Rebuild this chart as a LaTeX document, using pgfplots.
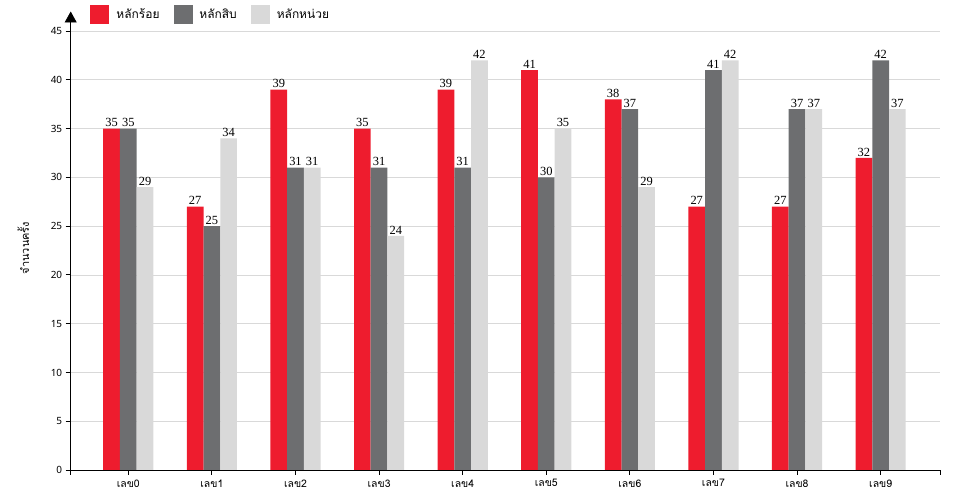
\documentclass[border=0pt]{standalone}
\usepackage{pgfplots}
\pgfplotsset{compat=1.18}
\usepackage{fontspec}
\setmainfont{Noto Sans}
\newfontfamily\thaifont[Script=Thai]{Loma}
\newfontfamily\seriffont{Liberation Serif}
\usetikzlibrary{arrows.meta}
\definecolor{cred}{HTML}{EE1C2E}
\definecolor{cdark}{HTML}{6D6E70}
\definecolor{clight}{HTML}{D9D9D9}
\definecolor{cgrid}{HTML}{D9D9D9}
\begin{document}
\begin{tikzpicture}
\useasboundingbox (0,0) rectangle (960bp,500bp);
\begin{axis}[
  at={(70.7bp,30bp)}, anchor=south west,
  scale only axis, width=869.3bp, height=458.5bp,
  xmin=-0.689, xmax=9.71, ymin=0, ymax=47,
  axis lines=left,
  x axis line style={-},
  y axis line style={-{Triangle[width=12bp,length=11bp]}},
  ytick={0,5,...,45},
  xtick={0,...,9},
  xticklabels={เลข0,เลข1,เลข2,เลข3,เลข4,เลข5,เลข6,เลข7,เลข8,เลข9},
  x tick label style={font=\thaifont\fontsize{10.5}{12}\selectfont, yshift=-1bp},
  y tick label style={font=\fontsize{10}{12}\selectfont},
  /pgf/number format/assume math mode=true,
  extra x ticks={-0.689,9.71},
  extra x tick labels={},
  extra x tick style={grid=none},
  tick align=outside,
  major tick length=5bp,
  tick style={black, line width=0.8pt},
  axis line style={black, line width=0.8pt},
  ymajorgrids,
  grid style={cgrid, line width=0.6pt},
  ylabel={จำนวนครั้ง},
  ylabel style={font=\thaifont\fontsize{11}{12}\selectfont, at={(axis description cs:-0.0545,0.484)}, anchor=center, rotate=0},
  ybar, bar width=0.2,
  nodes near coords,
  every node near coord/.append style={font=\seriffont\fontsize{12.5}{12}\selectfont, black, inner sep=1.5bp},
  legend columns=3,
  legend style={at={(axis description cs:0.0225,0.994)}, anchor=west, draw=none, fill=none,
    font=\thaifont\fontsize{12}{14}\selectfont, inner sep=0pt,
    /tikz/every odd column/.append style={column sep=5bp},
    /tikz/every even column/.append style={column sep=12bp}},
  legend image code/.code={\fill[#1] (0bp,-9.5bp) rectangle (19bp,9.5bp);},
]
\addplot[fill=cred, draw=none, bar shift=-0.2] coordinates {(0,35) (1,27) (2,39) (3,35) (4,39) (5,41) (6,38) (7,27) (8,27) (9,32)};
\addplot[fill=cdark, draw=none, bar shift=0] coordinates {(0,35) (1,25) (2,31) (3,31) (4,31) (5,30) (6,37) (7,41) (8,37) (9,42)};
\addplot[fill=clight, draw=none, bar shift=0.2] coordinates {(0,29) (1,34) (2,31) (3,24) (4,42) (5,35) (6,29) (7,42) (8,37) (9,37)};
\legend{หลักร้อย,หลักสิบ,หลักหน่วย}
\end{axis}
\end{tikzpicture}
\end{document}
